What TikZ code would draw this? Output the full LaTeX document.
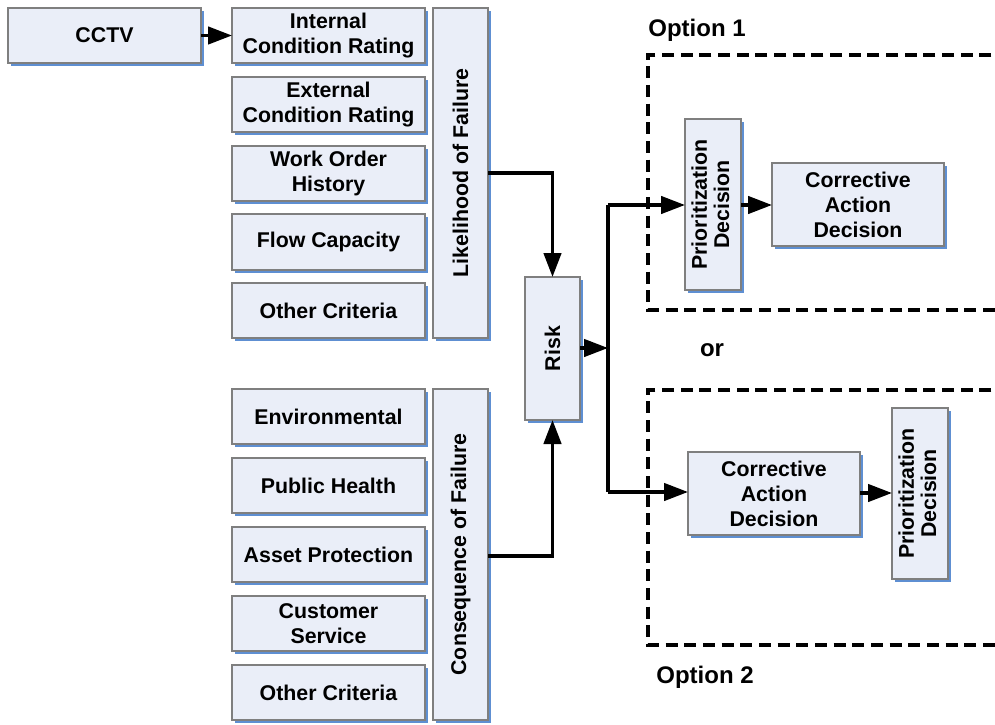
\documentclass[tikz,border=0pt]{standalone}
\usepackage{fontspec}
\setmainfont{Liberation Sans}
\usetikzlibrary{shadows,arrows.meta}
\definecolor{boxfill}{HTML}{EAEEF8}
\definecolor{boxline}{HTML}{7F7F7F}
\definecolor{shadowblue}{HTML}{5E8FD2}
\tikzset{
  box/.style={draw=boxline, line width=0.9pt, fill=boxfill, inner sep=0pt, outer sep=0pt, align=center,
    font=\bfseries\fontsize{16pt}{18.8pt}\selectfont,
    drop shadow={shadow xshift=2.6pt, shadow yshift=-2.6pt, fill=shadowblue, opacity=1}},
  conn/.style={line width=2.6pt, -{Triangle[length=18pt,width=13pt]}},
  line/.style={line width=2.6pt},
  optbox/.style={line width=2.3pt, dash pattern=on 9pt off 5pt},
  lab/.style={font=\bfseries\fontsize{18pt}{21pt}\selectfont, inner sep=0pt}
}
\newcommand\bx[6]{\node[box, minimum width={(#4-#2)*0.75pt}, minimum height={(#5-#3)*0.75pt}] (#1) at ({(#2+#4)/2},{(#3+#5)/2}) {#6};}
\begin{document}
\begin{tikzpicture}[x=0.75pt,y=-0.75pt]
\useasboundingbox[fill=white] (0,0) rectangle (995,724);
% option boxes
\draw[optbox] (1010,55) -- (648,55) -- (648,310) -- (1010,310);
\draw[optbox] (1010,390) -- (648,390) -- (648,645) -- (1010,645);
\node[lab] (opt1) at (697,30) {Option 1};
\node[lab] (or) at (712,350) {or};
\node[lab] (opt2) at (705,677) {Option 2};
% boxes
\bx{cctv}{8}{8}{201}{63}{CCTV}
\bx{icr}{232}{8}{425}{63}{Internal\\Condition Rating}
\bx{ecr}{232}{77}{425}{132}{External\\Condition Rating}
\bx{woh}{232}{146}{425}{201}{Work Order\\History}
\bx{fc}{232}{214}{425}{270}{Flow Capacity}
\bx{oc1}{232}{283}{425}{338}{Other Criteria}
\bx{lof}{433}{8}{488}{338}{\rotatebox{90}{Likelihood of Failure}}
\bx{env}{232}{389}{425}{444}{Environmental}
\bx{ph}{232}{458}{425}{513}{Public Health}
\bx{ap}{232}{527}{425}{582}{Asset Protection}
\bx{cs}{232}{596}{425}{651}{Customer\\Service}
\bx{oc2}{232}{665}{425}{720}{Other Criteria}
\bx{cof}{433}{389}{488}{720}{\rotatebox{90}{Consequence of Failure}}
\bx{risk}{525}{277}{580}{420}{\rotatebox{90}{Risk}}
\bx{pd1}{685}{119}{741}{290}{\rotatebox{90}{\begin{tabular}{@{}c@{}}Prioritization\\[-2pt]Decision\end{tabular}}}
\bx{cad1}{772}{163}{944}{246}{Corrective\\Action\\Decision}
\bx{cad2}{688}{452}{860}{535}{Corrective\\Action\\Decision}
\bx{pd2}{892}{408}{948}{579}{\rotatebox{90}{\begin{tabular}{@{}c@{}}Prioritization\\[-2pt]Decision\end{tabular}}}
% connectors
\coordinate (j) at (608,348);
\draw[conn] (cctv.east) -- (icr.west |- cctv.east);
\draw[conn] (lof.east |- 0,173) -| (risk.north);
\draw[conn] (cof.east |- 0,556) -| (risk.south);
\draw[conn] (risk.east |- j) -- (j);
\draw[line] (j |- 0,205) -- (j |- 0,492);
\draw[conn] (j |- 0,205) -- (pd1.west |- 0,205);
\draw[conn] (j |- 0,492) -- (cad2.west |- 0,492);
\draw[conn] (pd1.east |- 0,205) -- (cad1.west |- 0,205);
\draw[conn] (cad2.east |- 0,493) -- (pd2.west |- 0,493);
\end{tikzpicture}
\end{document}
